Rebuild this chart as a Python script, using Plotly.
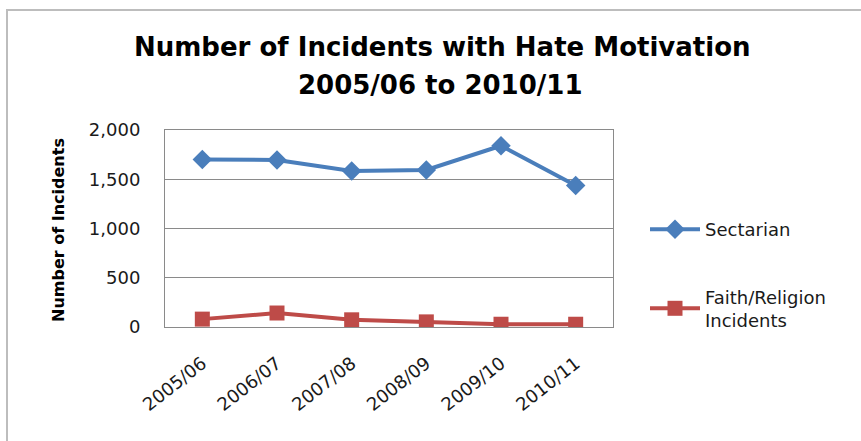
import plotly.graph_objects as go

# Financial years and incident counts
years = ["2005/06", "2006/07", "2007/08", "2008/09", "2009/10", "2010/11"]
sectarian = [1701, 1695, 1584, 1595, 1840, 1437]
faith_religion = [80, 142, 73, 52, 28, 28]

y_ticks = [0, 500, 1000, 1500, 2000]
y_tick_labels = ["0", "500", "1,000", "1,500", "2,000"]

BLUE = "#4a7ebb"
RED = "#be4b48"
GRID = "#8a8a8a"
FONT = "DejaVu Sans"
TEXT = "#1a1a1a"

W, H = 861, 441
L, R, T, B = 165, 248, 130, 114
pw, ph = W - L - R, H - T - B

def px_x(px):
    return (px - L) / pw

def px_y(py):
    return (H - B - py) / ph

fig = go.Figure()
fig.add_trace(go.Scatter(
    x=years, y=sectarian, name="Sectarian", mode="lines+markers",
    line=dict(color=BLUE, width=4),
    marker=dict(symbol="diamond", size=15, color=BLUE),
    legendgroup="a",
))
fig.add_trace(go.Scatter(
    x=years, y=faith_religion, name="Faith/Religion<br>Incidents", mode="lines+markers",
    line=dict(color=RED, width=4),
    marker=dict(symbol="square", size=15, color=RED),
    legendgroup="b",
))

fig.update_layout(
    width=W, height=H,
    margin=dict(l=L, r=R, t=T, b=B, autoexpand=False),
    paper_bgcolor="white", plot_bgcolor="white",
    font=dict(family=FONT, color=TEXT, size=17),
    showlegend=True,
    legend=dict(
        x=px_x(645), y=px_y(211), xanchor="left", yanchor="top",
        font=dict(size=18, family=FONT, color=TEXT),
        tracegroupgap=41, itemwidth=50, bgcolor="rgba(0,0,0,0)",
    ),
    xaxis=dict(
        type="category", range=[-0.5, len(years) - 0.5],
        tickangle=-38, showgrid=False, automargin=False,
        showline=True, linecolor=GRID, linewidth=1, mirror=True,
        ticks="", tickfont=dict(size=18, family=FONT, color=TEXT),
        ticklabelstandoff=18,
    ),
    yaxis=dict(
        range=[0, 2000], tickvals=y_ticks, ticktext=y_tick_labels, automargin=False,
        showgrid=True, gridcolor=GRID, gridwidth=1,
        showline=True, linecolor=GRID, linewidth=1, mirror=True,
        ticks="", tickfont=dict(size=18, family=FONT, color=TEXT),
        ticklabelstandoff=20, zeroline=False,
    ),
    annotations=[
        dict(text="<b>Number of Incidents with Hate Motivation</b>",
             x=px_x(442), y=px_y(47), xref="paper", yref="paper",
             xanchor="center", yanchor="middle", showarrow=False,
             font=dict(size=26, family=FONT, color="black")),
        dict(text="<b>2005/06 to 2010/11</b>",
             x=px_x(440), y=px_y(85), xref="paper", yref="paper",
             xanchor="center", yanchor="middle", showarrow=False,
             font=dict(size=26, family=FONT, color="black")),
        dict(text="<b>Number of Incidents</b>", textangle=-90,
             x=px_x(58), y=px_y(230), xref="paper", yref="paper",
             xanchor="center", yanchor="middle", showarrow=False,
             font=dict(size=16, family=FONT, color="black")),
    ],
    shapes=[
        dict(type="rect", xref="paper", yref="paper",
             x0=px_x(7), x1=px_x(W + 20), y0=px_y(H + 20), y1=px_y(10),
             line=dict(color="#bdbdbd", width=2), layer="below"),
    ],
)

fig.write_html("out.html")
